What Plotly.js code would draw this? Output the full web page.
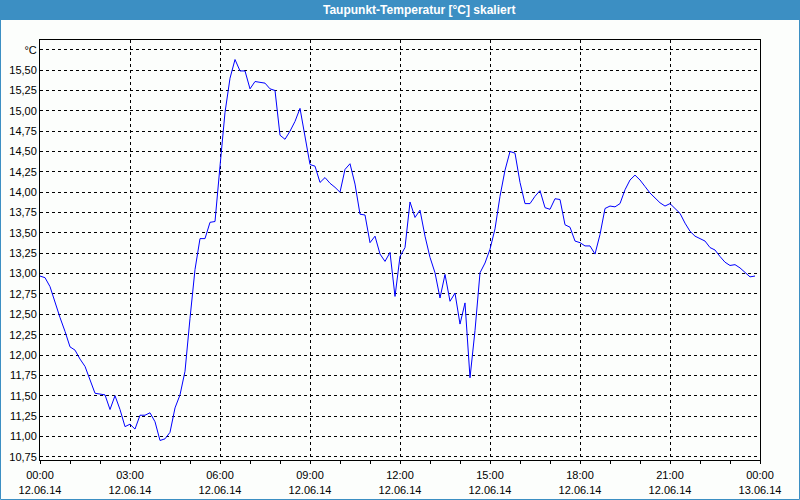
<!DOCTYPE html>
<html>
<head>
<meta charset="utf-8">
<script src="https://cdn.plot.ly/plotly-3.0.1.min.js"></script>
<style>
html,body{margin:0;padding:0;background:#fcfefc;}
#chart{width:800px;height:500px;}
</style>
</head>
<body>
<div id="chart"></div>
<script>
// Sampling: 10-minute readings starting 12.06.14 00:00
const startTime = "2014-06-12T00:00:00";
const stepMinutes = 10;

// Dew point temperature [°C]
const dewPoint = [
  12.97, 12.95, 12.84, 12.64, 12.46, 12.29, 12.10, 12.06, 11.95, 11.86,
  11.70, 11.53, 11.52, 11.51, 11.33, 11.50, 11.33, 11.12, 11.15, 11.09,
  11.26, 11.26, 11.29, 11.18, 10.95, 10.97, 11.05, 11.35, 11.51, 11.80,
  12.45, 13.05, 13.43, 13.43, 13.63, 13.64, 14.32, 14.98, 15.40, 15.63,
  15.49, 15.49, 15.27, 15.36, 15.35, 15.34, 15.27, 15.25, 14.70, 14.65,
  14.75, 14.87, 15.03, 14.70, 14.34, 14.32, 14.12, 14.18, 14.11, 14.06,
  14.00, 14.28, 14.35, 14.10, 13.73, 13.72, 13.38, 13.46, 13.24, 13.15,
  13.26, 12.72, 13.21, 13.32, 13.88, 13.69, 13.78, 13.46, 13.20, 13.01,
  12.70, 12.99, 12.66, 12.76, 12.38, 12.64, 11.72, 12.30, 13.01, 13.13,
  13.30, 13.55, 13.95, 14.27, 14.50, 14.48, 14.12, 13.86, 13.86, 13.95,
  14.02, 13.81, 13.79, 13.92, 13.91, 13.60, 13.57, 13.40, 13.38, 13.34,
  13.34, 13.24, 13.48, 13.80, 13.83, 13.82, 13.86, 14.03, 14.15, 14.21,
  14.15, 14.07, 13.99, 13.93, 13.87, 13.83, 13.86, 13.80, 13.74, 13.62,
  13.52, 13.46, 13.43, 13.40, 13.32, 13.29, 13.21, 13.14, 13.10, 13.11,
  13.07, 13.01, 12.96, 12.97
];

const xTickVals = [
  "2014-06-12 00:00", "2014-06-12 03:00", "2014-06-12 06:00", "2014-06-12 09:00",
  "2014-06-12 12:00", "2014-06-12 15:00", "2014-06-12 18:00", "2014-06-12 21:00",
  "2014-06-13 00:00"
];
const xTickText = [
  "00:00<br>12.06.14", "03:00<br>12.06.14", "06:00<br>12.06.14", "09:00<br>12.06.14",
  "12:00<br>12.06.14", "15:00<br>12.06.14", "18:00<br>12.06.14", "21:00<br>12.06.14",
  "00:00<br>13.06.14"
];
const yTickVals = [10.75, 11.00, 11.25, 11.50, 11.75, 12.00, 12.25, 12.50, 12.75, 13.00,
  13.25, 13.50, 13.75, 14.00, 14.25, 14.50, 14.75, 15.00, 15.25, 15.50, 15.75];
const yTickText = ["10,75", "11,00", "11,25", "11,50", "11,75", "12,00", "12,25", "12,50",
  "12,75", "13,00", "13,25", "13,50", "13,75", "14,00", "14,25", "14,50", "14,75", "15,00",
  "15,25", "15,50", "°C"];

function pad(n){return (n<10?"0":"")+n;}
const t0 = new Date(startTime + "Z").getTime();
const times = dewPoint.map((_, i) => {
  const d = new Date(t0 + i * stepMinutes * 60000);
  return d.getUTCFullYear() + "-" + pad(d.getUTCMonth()+1) + "-" + pad(d.getUTCDate()) +
    " " + pad(d.getUTCHours()) + ":" + pad(d.getUTCMinutes());
});

const blue = "#3c8fc3";
const font = {family: "Liberation Sans, Arial, sans-serif", size: 11, color: "#000"};

const layout = {
  width: 800, height: 500,
  margin: {l: 40, r: 40, t: 40, b: 40, pad: 0},
  paper_bgcolor: "#fcfefc",
  plot_bgcolor: "#fcfefc",
  showlegend: false,
  font: font,
  title: {
    text: "<b>Taupunkt-Temperatur [°C] skaliert</b>",
    font: {family: "Liberation Sans, Arial, sans-serif", size: 12, color: "#ffffff"},
    x: 0.524, xref: "container", xanchor: "center",
    y: 0.98, yref: "container", yanchor: "middle"
  },
  xaxis: {
    type: "date",
    range: ["2014-06-12 00:00", "2014-06-13 00:00"],
    tickmode: "array", tickvals: xTickVals, ticktext: xTickText,
    ticks: "outside", ticklen: 3, tickcolor: "#000", tickwidth: 1,
    ticklabelstandoff: 2,
    showgrid: true, gridcolor: "#000", gridwidth: 1, griddash: "3px,3px",
    showline: true, linecolor: "#000", linewidth: 1, mirror: true,
    zeroline: false,
    tickfont: font,
    minor: {dtick: 3600000, ticks: "outside", ticklen: 3, tickcolor: "#000", showgrid: false}
  },
  yaxis: {
    range: [10.71, 15.87],
    tickmode: "array", tickvals: yTickVals, ticktext: yTickText,
    ticks: "",
    showgrid: true, gridcolor: "#000", gridwidth: 1, griddash: "3px,3px",
    showline: true, linecolor: "#000", linewidth: 1, mirror: true,
    zeroline: false,
    tickfont: font
  },
  shapes: [
    {type: "rect", xref: "paper", yref: "paper", layer: "below",
     x0: -40/720, x1: 1 + 40/720, y0: 1 + 20/420, y1: 1 + 40/420,
     fillcolor: blue, line: {width: 0}},
    {type: "rect", xref: "paper", yref: "paper", layer: "below",
     x0: -39.5/720, x1: 1 + 39.5/720, y0: -39.5/420, y1: 1 + 39.5/420,
     fillcolor: "rgba(0,0,0,0)", line: {width: 1, color: blue}}
  ]
};

Plotly.newPlot("chart", [{
  type: "scatter", mode: "lines",
  x: times, y: dewPoint,
  line: {color: "#0000ff", width: 1},
  hoverinfo: "skip"
}], layout, {staticPlot: true});
</script>
</body>
</html>
